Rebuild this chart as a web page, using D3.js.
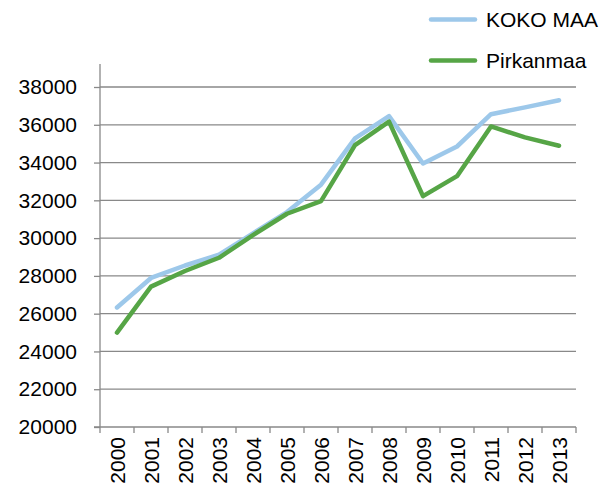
<!DOCTYPE html>
<html>
<head>
<meta charset="utf-8">
<script src="https://cdn.jsdelivr.net/npm/d3@7"></script>
<style>
  body { margin: 0; background: #fff; }
  text { font-family: "Liberation Sans", Arial, sans-serif; fill: #000; }
</style>
</head>
<body>
<div id="chart"></div>
<script>
// values
var years = ["2000","2001","2002","2003","2004","2005","2006","2007","2008","2009","2010","2011","2012","2013"];
var kokoMaa = [26330, 27890, 28550, 29120, 30250, 31380, 32830, 35280, 36460, 33950, 34850, 36560, 36920, 37300];
var pirkanmaa = [25000, 27430, 28260, 28960, 30160, 31290, 31960, 34920, 36170, 32220, 33280, 35910, 35330, 34890];
var yTicks = [20000, 22000, 24000, 26000, 28000, 30000, 32000, 34000, 36000, 38000];

var series = [
  {name: "KOKO MAA", values: kokoMaa, color: "#9dc8ea"},
  {name: "Pirkanmaa", values: pirkanmaa, color: "#56a546"}
];

var width = 610, height = 487;
var plotLeft = 100, plotRight = 576, plotTop = 64, plotBottom = 427;
var fontSize = "21px";

var svg = d3.select("#chart").append("svg")
    .attr("width", width)
    .attr("height", height);

var x = d3.scaleBand().domain(years).range([plotLeft, plotRight]);
var y = d3.scaleLinear().domain([20000, 38000]).range([plotBottom, 87]);

// gridlines
svg.append("g")
  .selectAll("line")
  .data(yTicks.slice(1))
  .enter().append("line")
    .attr("x1", plotLeft).attr("x2", plotRight)
    .attr("y1", y).attr("y2", y)
    .attr("stroke", "#898989")
    .attr("stroke-width", 1.3);

// y axis
var yAxis = svg.append("g")
    .attr("transform", "translate(" + plotLeft + ",0)")
    .call(d3.axisLeft(y).tickValues(yTicks).tickSize(6).tickPadding(17).tickFormat(d3.format("d")));
yAxis.select(".domain").remove();
yAxis.selectAll(".tick line").attr("stroke", "#898989").attr("stroke-width", 1.3);
yAxis.selectAll("text").style("font-size", fontSize).attr("font-family", null);
yAxis.append("line")
    .attr("x1", 0).attr("x2", 0)
    .attr("y1", plotTop).attr("y2", plotBottom)
    .attr("stroke", "#898989").attr("stroke-width", 1.3);

// x axis, ticks on the band edges
var xg = svg.append("g").attr("transform", "translate(0," + plotBottom + ")");
xg.append("line")
    .attr("x1", plotLeft - 6).attr("x2", plotRight)
    .attr("stroke", "#898989").attr("stroke-width", 1.3);
xg.selectAll(".edge")
  .data(d3.range(years.length + 1))
  .enter().append("line")
    .attr("class", "edge")
    .attr("x1", function(i) { return plotLeft + i * x.step(); })
    .attr("x2", function(i) { return plotLeft + i * x.step(); })
    .attr("y1", 0).attr("y2", 6)
    .attr("stroke", "#898989").attr("stroke-width", 1.3);
xg.selectAll(".lbl")
  .data(years)
  .enter().append("text")
    .attr("class", "lbl")
    .attr("transform", function(d) {
      return "translate(" + (x(d) + x.bandwidth() / 2) + ",10) rotate(-90)";
    })
    .attr("dy", "0.36em")
    .attr("text-anchor", "end")
    .style("font-size", fontSize)
    .text(function(d) { return d; });

// lines
var line = d3.line()
    .x(function(d, i) { return x(years[i]) + x.bandwidth() / 2; })
    .y(function(d) { return y(d); });

svg.selectAll(".series")
  .data(series)
  .enter().append("path")
    .attr("class", "series")
    .attr("d", function(s) { return line(s.values); })
    .attr("fill", "none")
    .attr("stroke", function(s) { return s.color; })
    .attr("stroke-width", 4.5)
    .attr("stroke-linejoin", "round")
    .attr("stroke-linecap", "round");

// legend
var lg = svg.selectAll(".legend")
  .data(series)
  .enter().append("g")
    .attr("class", "legend")
    .attr("transform", function(d, i) { return "translate(431," + (19.5 + i * 41) + ")"; });
lg.append("line")
    .attr("x1", 0).attr("x2", 44)
    .attr("stroke", function(d) { return d.color; })
    .attr("stroke-width", 4.5)
    .attr("stroke-linecap", "round");
lg.append("text")
    .attr("x", 55).attr("y", 7.5)
    .style("font-size", fontSize)
    .text(function(d) { return d.name; });
</script>
</body>
</html>
